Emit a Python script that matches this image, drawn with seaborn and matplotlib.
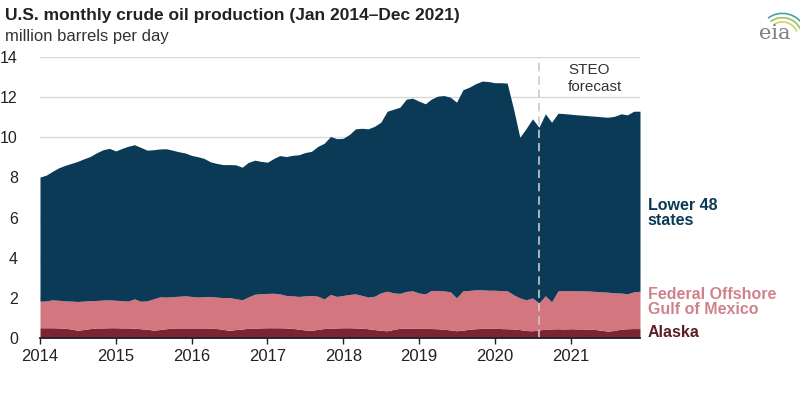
import numpy as np
import pandas as pd
import seaborn as sns
import matplotlib.pyplot as plt
from matplotlib.patches import Arc

# monthly values, million barrels per day (Jan 2014 - Dec 2021)
months = pd.date_range("2014-01-01", "2021-12-01", freq="MS")

alaska = [
    0.51, 0.51, 0.51, 0.50, 0.49, 0.44, 0.39, 0.42, 0.47, 0.50, 0.50, 0.51,
    0.51, 0.50, 0.50, 0.49, 0.46, 0.44, 0.39, 0.42, 0.46, 0.49, 0.50, 0.50,
    0.50, 0.50, 0.50, 0.49, 0.47, 0.43, 0.38, 0.42, 0.45, 0.48, 0.49, 0.50,
    0.51, 0.51, 0.51, 0.50, 0.48, 0.44, 0.40, 0.38, 0.43, 0.47, 0.49, 0.50,
    0.51, 0.51, 0.50, 0.49, 0.46, 0.42, 0.38, 0.36, 0.43, 0.48, 0.49, 0.49,
    0.48, 0.48, 0.47, 0.46, 0.44, 0.40, 0.36, 0.39, 0.44, 0.46, 0.48, 0.48,
    0.48, 0.47, 0.46, 0.45, 0.42, 0.37, 0.36, 0.40, 0.44, 0.45, 0.46, 0.45,
    0.46, 0.45, 0.45, 0.44, 0.42, 0.38, 0.34, 0.38, 0.44, 0.46, 0.47, 0.47,
]

gulf_of_mexico = [
    1.32, 1.34, 1.39, 1.38, 1.36, 1.40, 1.43, 1.42, 1.39, 1.37, 1.39, 1.39,
    1.37, 1.36, 1.34, 1.46, 1.37, 1.41, 1.56, 1.63, 1.58, 1.57, 1.58, 1.60,
    1.57, 1.54, 1.56, 1.58, 1.57, 1.58, 1.64, 1.54, 1.45, 1.57, 1.69, 1.71,
    1.71, 1.72, 1.69, 1.62, 1.62, 1.63, 1.70, 1.74, 1.65, 1.48, 1.68, 1.57,
    1.61, 1.66, 1.70, 1.63, 1.58, 1.66, 1.87, 1.97, 1.82, 1.74, 1.83, 1.86,
    1.76, 1.72, 1.90, 1.90, 1.91, 1.90, 1.64, 1.96, 1.93, 1.94, 1.92, 1.90,
    1.90, 1.89, 1.89, 1.70, 1.58, 1.53, 1.64, 1.34, 1.67, 1.35, 1.89, 1.91,
    1.90, 1.90, 1.90, 1.90, 1.90, 1.92, 1.94, 1.87, 1.80, 1.74, 1.83, 1.86,
]

lower_48 = [
    6.18, 6.27, 6.40, 6.60, 6.75, 6.86, 6.98, 7.09, 7.19, 7.36, 7.49, 7.55,
    7.44, 7.59, 7.71, 7.68, 7.67, 7.51, 7.43, 7.37, 7.39, 7.30, 7.20, 7.12,
    7.03, 6.99, 6.89, 6.71, 6.66, 6.63, 6.62, 6.67, 6.61, 6.70, 6.68, 6.59,
    6.54, 6.72, 6.89, 6.92, 7.00, 7.06, 7.14, 7.18, 7.47, 7.75, 7.87, 7.86,
    7.83, 7.98, 8.22, 8.33, 8.38, 8.47, 8.50, 8.97, 9.15, 9.28, 9.58, 9.60,
    9.56, 9.47, 9.53, 9.69, 9.73, 9.70, 9.75, 10.02, 10.13, 10.27, 10.40, 10.40,
    10.34, 10.36, 10.35, 9.25, 8.00, 8.55, 8.92, 8.76, 9.06, 8.95, 8.85, 8.82,
    8.79, 8.77, 8.75, 8.73, 8.73, 8.72, 8.72, 8.80, 8.93, 8.92, 9.00, 8.97,
]

forecast_start = pd.Timestamp("2020-08-01")
year_ticks = pd.date_range("2014-01-01", "2021-01-01", freq="YS")
y_ticks = [0, 2, 4, 6, 8, 10, 12, 14]

df = pd.DataFrame({"Alaska": alaska, "Federal Offshore Gulf of Mexico": gulf_of_mexico,
                   "Lower 48 states": lower_48}, index=months)

sns.set_theme(style="white")
plt.rcParams["font.family"] = ["Liberation Sans", "DejaVu Sans"]

colors = ["#7a2531", "#d4767f", "#0b3a56"]

fig = plt.figure(figsize=(8, 3.96), dpi=100)
ax = fig.add_axes([0.05, 0.1465, 0.75, 0.7095])

ax.stackplot(df.index, df["Alaska"], df["Federal Offshore Gulf of Mexico"],
             df["Lower 48 states"], colors=colors, linewidth=0, zorder=2)

ax.set_xlim(months[0], months[-1])
ax.set_ylim(0, 14)
ax.set_yticks(y_ticks)
ax.set_xticks(year_ticks)
ax.set_xticklabels([str(d.year) for d in year_ticks])
ax.grid(axis="y", color="#d9d9d9", linewidth=1, zorder=0)
ax.grid(axis="x", visible=False)
ax.set_axisbelow(True)
for s in ["top", "right", "left"]:
    ax.spines[s].set_visible(False)
ax.spines["bottom"].set_color("#222222")
ax.spines["bottom"].set_linewidth(1.3)
ax.spines["bottom"].set_zorder(5)
ax.tick_params(axis="x", bottom=True, length=4, width=1, color="#222222",
               labelsize=12, labelcolor="#222222", pad=4)
ax.tick_params(axis="y", left=False, labelsize=11.5, labelcolor="#222222", pad=10)
ax.set_xlabel("")
ax.set_ylabel("")

# forecast divider
ax.plot([forecast_start, forecast_start], [0, 14], color="#c9c9c9", lw=1.2,
        dashes=(5, 3), zorder=4)
ax.text(pd.Timestamp("2020-12-20"), 13.72, "STEO\nforecast", ha="left", va="top",
        fontsize=11, color="#333333", linespacing=1.3)

# series labels
lab = dict(fontsize=11.5, fontweight="bold", ha="left", transform=ax.get_yaxis_transform(),
           clip_on=False, linespacing=1.0)
ax.text(1.013, 6.25, "Lower 48\nstates", va="center", color="#0b3a56", **lab)
ax.text(1.013, 1.8, "Federal Offshore\nGulf of Mexico", va="center", color="#d0828b", **lab)
ax.text(1.013, 0.25, "Alaska", va="center", color="#5e1d27", **lab)

# titles
fig.text(0.006, 0.962, "U.S. monthly crude oil production (Jan 2014\u2013Dec 2021)",
         fontsize=12.5, fontweight="bold", color="#222222", va="center", ha="left")
fig.text(0.006, 0.908, "million barrels per day", fontsize=12, color="#333333",
         va="center", ha="left")

# eia logo
fig.text(0.969, 0.915, "eia", fontsize=15, family="DejaVu Serif", color="#7f7f7f",
         ha="center", va="center")
for r, c in [(0.022, "#c9d66a"), (0.028, "#9cc35a"), (0.034, "#4aa3a0")]:
    fig.add_artist(Arc((0.978, 0.905), r * 2 * 396 / 800 * 1.8, r * 2 * 1.8, theta1=40, theta2=110,
                       transform=fig.transFigure, color=c, lw=1.2))

fig.savefig("out.png", dpi=100)
